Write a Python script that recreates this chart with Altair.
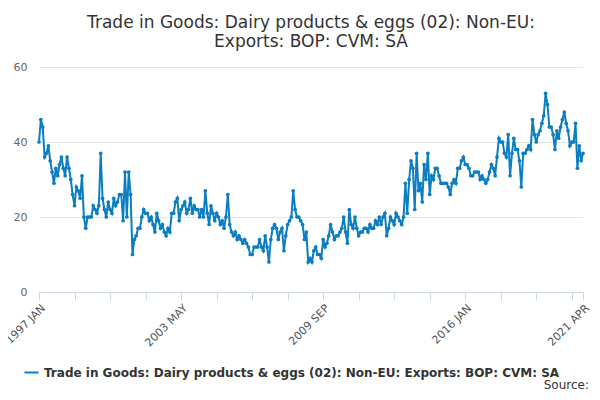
import pandas as pd
import altair as alt

series_name = "Trade in Goods: Dairy products & eggs (02): Non-EU: Exports: BOP: CVM: SA"

values = [
    40, 46, 44, 36, 37, 39, 35, 32, 29, 33, 31, 34,
    36, 33, 31, 36, 33, 30, 26, 23, 28, 27, 25, 31,
    20, 17, 20, 20, 20, 23, 22, 21, 23, 37, 25, 22,
    20, 24, 22, 21, 25, 23, 24, 26, 26, 19, 32, 20,
    32, 26, 10, 14, 15, 17, 17, 20, 22, 21, 21, 19,
    20, 18, 16, 21, 19, 17, 18, 16, 15, 17, 16, 21,
    21, 24, 25, 19, 22, 23, 24, 21, 22, 25, 21, 23,
    22, 22, 20, 22, 20, 27, 21, 18, 23, 21, 19, 21,
    20, 18, 19, 17, 20, 26, 18, 16, 15, 16, 14, 15,
    14, 13, 14, 13, 12, 10, 10, 12, 12, 12, 14, 12,
    11, 15, 12, 8, 14, 17, 18, 17, 14, 16, 17, 11,
    15, 18, 19, 20, 27, 22, 20, 20, 19, 18, 14, 16,
    8, 9, 8, 11, 12, 10, 10, 9, 14, 12, 13, 15,
    18, 16, 14, 15, 15, 16, 17, 20, 16, 13, 22, 18,
    17, 20, 17, 15, 16, 16, 17, 17, 16, 18, 17, 17,
    19, 18, 20, 18, 20, 21, 15, 17, 20, 19, 18, 21,
    20, 19, 18, 20, 29, 21, 30, 35, 33, 22, 37, 27,
    29, 24, 34, 30, 37, 26, 31, 30, 33, 33, 31, 29,
    29, 29, 29, 28, 26, 29, 30, 29, 33, 33, 35, 36,
    34, 34, 33, 31, 31, 32, 32, 32, 30, 31, 30, 29,
    30, 32, 34, 33, 31, 36, 41, 40, 40, 37, 36, 42,
    31, 37, 41, 38, 38, 35, 28, 37, 37, 38, 39, 38,
    46, 42, 40, 42, 43, 45, 47, 53, 50, 44, 44, 42,
    38, 43, 41, 44, 46, 48, 45, 43, 39, 40, 40, 45,
    33, 39, 35, 37,
]
months = ["JAN", "FEB", "MAR", "APR", "MAY", "JUN", "JUL", "AUG", "SEP", "OCT", "NOV", "DEC"]
labels = [f"{1997 + i // 12} {months[i % 12]}" for i in range(len(values))]
label_positions = [0, 76, 152, 228, 291]
tick_positions = list(range(0, 291, 19)) + [291]

df = pd.DataFrame({"idx": list(range(len(values))), "value": values, "label": labels, "series": series_name})

label_map = "{" + ",".join(f"'{p}':'{labels[p]}'" for p in label_positions) + "}"

color = "#0b7dc1"
base = alt.Chart(df).encode(
    x=alt.X("idx:Q", scale=alt.Scale(domain=[0, 291], nice=False, zero=False),
            axis=alt.Axis(title=None, values=tick_positions, labelAngle=-45, grid=False,
                          labelExpr=f"({label_map})[''+datum.value] || ''",
                          domainColor="#ccd6eb", tickColor="#ccd6eb", tickSize=8,
                          labelColor="#555", labelFontSize=11, labelOverlap=False, labelFlush=False)),
    y=alt.Y("value:Q", scale=alt.Scale(domain=[0, 60]),
            axis=alt.Axis(title=None, values=[0, 20, 40, 60], domain=False, ticks=False,
                          gridColor="#e6e6e6", labelColor="#666", labelFontSize=11, labelPadding=12)),
    color=alt.Color("series:N", scale=alt.Scale(range=[color]),
                    legend=alt.Legend(title=None, orient="none", legendX=-16, legendY=297,
                                      symbolType="stroke", symbolStrokeWidth=2, symbolSize=200,
                                      labelFontWeight="bold", labelFontSize=12, labelColor="#333",
                                      labelLimit=600)),
)
line = base.mark_line(strokeWidth=2)
points = base.mark_point(filled=True, size=14, opacity=1)

source = alt.Chart(pd.DataFrame({"t": ["Source:"]})).mark_text(
    align="right", baseline="bottom", fontSize=12, color="#333"
).encode(text="t:N", x=alt.value(550), y=alt.value(325))

chart = (line + points + source).properties(
    width=544, height=225,
    autosize=alt.AutoSizeParams(type="none"),
    padding={"left": 31, "top": 59, "right": 9, "bottom": 100},
    title=alt.Title(["Trade in Goods: Dairy products & eggs (02): Non-EU:", "Exports: BOP: CVM: SA"],
                    fontSize=17, fontWeight="normal", color="#333", anchor="middle", offset=10,
                    font="DejaVu Sans"),
).configure(font="DejaVu Sans").configure_view(strokeWidth=0)

chart.save("out.html", embed_options={"renderer": "svg", "actions": False})
